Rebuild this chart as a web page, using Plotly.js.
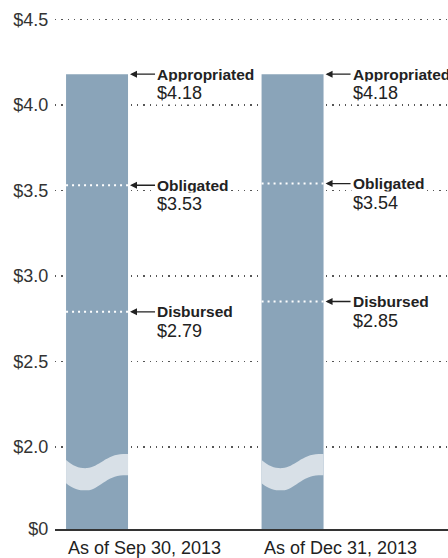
<!DOCTYPE html>
<html>
<head>
<meta charset="utf-8">
<script src="https://cdn.plot.ly/plotly-3.0.1.min.js"></script>
<style>
  html, body { margin: 0; padding: 0; background: #fff; }
  #chart { width: 448px; height: 558px; }
</style>
</head>
<body>
<div id="chart"></div>
<script>
// ---- data ----
var categories = ['As of Sep 30, 2013', 'As of Dec 31, 2013'];
var appropriated = [4.18, 4.18];
var obligated = [3.53, 3.54];
var disbursed = [2.79, 2.85];
var measureNames = ['Appropriated', 'Obligated', 'Disbursed'];
var tickValues = [2.0, 2.5, 3.0, 3.5, 4.0, 4.5];
var tickLabels = ['$2.0', '$2.5', '$3.0', '$3.5', '$4.0', '$4.5'];
var breakBase = 1.52;      // axis is broken: the bottom of the plot stands for $0
var breakLabel = '$0';

// ---- styling ----
var barColor = '#8aa4b9';
var bandColor = '#d8e0e7';
var regFont = 'Liberation Sans, Arial, sans-serif';
var boldFont = 'Liberation Sans, Arial, sans-serif';
var barWidth = 0.317;

var xs = categories.map(function (c, i) { return i; });

var traces = [{
  type: 'bar',
  x: xs,
  y: appropriated,
  width: barWidth,
  marker: { color: barColor, line: { width: 0 } },
  hoverinfo: 'skip'
}];

// white dotted level lines inside the bars
function levelLine(i, v) {
  return {
    type: 'scatter', mode: 'lines',
    x: [i - barWidth / 2, i + barWidth / 2],
    y: [v, v],
    line: { color: '#ffffff', width: 2, dash: '2px,4px' },
    hoverinfo: 'skip'
  };
}
xs.forEach(function (i) {
  traces.push(levelLine(i, obligated[i]));
  traces.push(levelLine(i, disbursed[i]));
});

// break band (wavy) on each bar
var shapes = xs.map(function (i) {
  var xl = i - barWidth / 2, w = barWidth;
  function X(f) { return (xl + f * w).toFixed(4); }
  var p = 'M' + X(0) + ',1.923' +
    ' C' + X(0.12) + ',1.884 ' + X(0.22) + ',1.874 ' + X(0.34) + ',1.876' +
    ' C' + X(0.52) + ',1.879 ' + X(0.66) + ',1.957 ' + X(0.92) + ',1.958' +
    ' L' + X(1) + ',1.958 L' + X(1) + ',1.835 L' + X(0.92) + ',1.835' +
    ' C' + X(0.66) + ',1.834 ' + X(0.52) + ',1.748 ' + X(0.34) + ',1.746' +
    ' C' + X(0.22) + ',1.745 ' + X(0.12) + ',1.752 ' + X(0) + ',1.788 Z';
  return {
    type: 'path', xref: 'x', yref: 'y', path: p,
    fillcolor: bandColor, line: { width: 0 }, layer: 'above'
  };
});

var annotations = [];
xs.forEach(function (i) {
  var vals = [appropriated[i], obligated[i], disbursed[i]];
  vals.forEach(function (v, k) {
    annotations.push({
      x: i + barWidth / 2, y: v, xref: 'x', yref: 'y',
      text: measureNames[k],
      showarrow: true, ax: 27, ay: 0,
      xanchor: 'left', yanchor: 'middle',
      arrowhead: 2, arrowsize: 1, arrowwidth: 1.4, arrowcolor: '#222',
      standoff: 2,
      bgcolor: '#ffffff', borderpad: 1,
      font: { family: boldFont, size: 15.5, color: '#222', weight: 'bold' }
    });
    annotations.push({
      x: i + barWidth / 2, y: v, xref: 'x', yref: 'y',
      text: '$' + v.toFixed(2),
      showarrow: false,
      xanchor: 'left', yanchor: 'middle',
      xshift: 27, yshift: -19,
      bgcolor: '#ffffff', borderpad: 1,
      font: { family: regFont, size: 18, color: '#222' }
    });
  });
  annotations.push({
    x: i - barWidth / 2, y: 0, xref: 'x', yref: 'paper',
    text: categories[i], showarrow: false,
    xanchor: 'left', yanchor: 'top', xshift: 0, yshift: -7,
    font: { family: regFont, size: 18, color: '#222' }
  });
});

var layout = {
  width: 448, height: 558,
  margin: { l: 55, r: 0, t: 16, b: 29, pad: 0 },
  paper_bgcolor: '#ffffff', plot_bgcolor: '#ffffff',
  showlegend: false,
  hovermode: false,
  xaxis: {
    range: [-0.215, 1.795],
    showticklabels: false, showgrid: false, zeroline: false,
    showline: true, linecolor: '#333', linewidth: 2, ticks: ''
  },
  yaxis: {
    range: [breakBase, 4.52],
    tickvals: [breakBase].concat(tickValues),
    ticktext: [breakLabel].concat(tickLabels),
    showgrid: true, gridcolor: '#555', gridwidth: 1.3, griddash: '1.3px,5px',
    zeroline: false, showline: false,
    ticks: 'outside', ticklen: 2, tickcolor: 'rgba(0,0,0,0)',
    tickfont: { family: regFont, size: 18, color: '#333' }
  },
  shapes: shapes,
  annotations: annotations
};

Plotly.newPlot('chart', traces, layout, { staticPlot: true, displayModeBar: false });
</script>
</body>
</html>
